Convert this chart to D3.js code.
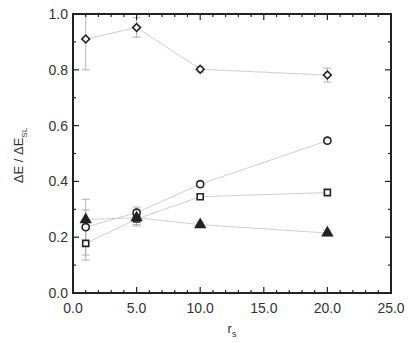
<!DOCTYPE html>
<html><head><meta charset="utf-8">
<script src="https://cdn.jsdelivr.net/npm/d3@7"></script>
<style>body{margin:0;background:#fff}svg{display:block}</style>
</head><body>
<svg id="c" width="409" height="343"></svg>
<script>
const rs = [1, 5, 10, 20];
const diamondVals = [0.91, 0.952, 0.802, 0.781];
const diamondErr = [0.11, 0.035, 0.01, 0.025];
const circleVals = [0.236, 0.288, 0.39, 0.546];
const circleErr = [0.1, 0.02, 0.01, 0.01];
const squareVals = [0.178, 0.265, 0.345, 0.36];
const squareErr = [0.06, 0.02, 0.01, 0.015];
const triangleVals = [0.263, 0.27, 0.245, 0.215];
const triangleErr = [0.035, 0.03, 0.01, 0.01];
const xTicks = [0, 5, 10, 15, 20, 25];
const yTicks = [0, 0.2, 0.4, 0.6, 0.8, 1.0];

const svg = d3.select("#c");
const L = 73, R = 391, T = 14, B = 293;
const x = d3.scaleLinear().domain([0, 25]).range([L, R]);
const y = d3.scaleLinear().domain([0, 1]).range([B, T]);
const ink = "#222";
const font = "Liberation Sans, Arial, sans-serif";

const series = [
  {vals: diamondVals, err: diamondErr, sym: d3.symbolSquare, size: 30, rot: 45, fill: "none"},
  {vals: circleVals, err: circleErr, sym: d3.symbolCircle, size: 40, rot: 0, fill: "none"},
  {vals: squareVals, err: squareErr, sym: d3.symbolSquare, size: 36, rot: 0, fill: "none"},
  {vals: triangleVals, err: triangleErr, sym: d3.symbolTriangle, size: 40, rot: 0, fill: ink}
];

// connecting lines
series.forEach(s => {
  svg.append("path")
    .datum(rs.map((r, i) => [r, s.vals[i]]))
    .attr("d", d3.line().x(d => x(d[0])).y(d => y(d[1])))
    .attr("fill", "none").attr("stroke", "#d0d0d0").attr("stroke-width", 1);
});

// error bars
series.forEach(s => {
  rs.forEach((r, i) => {
    const g = svg.append("g").attr("stroke", "#b0b0b0").attr("stroke-width", 1);
    const top = Math.max(y(s.vals[i] + s.err[i]), T), bot = y(s.vals[i] - s.err[i]);
    const cx = x(r);
    g.append("line").attr("x1", cx).attr("x2", cx).attr("y1", top).attr("y2", bot);
    g.append("line").attr("x1", cx - 4).attr("x2", cx + 4).attr("y1", top).attr("y2", top);
    g.append("line").attr("x1", cx - 4).attr("x2", cx + 4).attr("y1", bot).attr("y2", bot);
  });
});

// markers
series.forEach(s => {
  svg.append("g").selectAll("path").data(rs.map((r, i) => [r, s.vals[i]])).join("path")
    .attr("transform", d => `translate(${x(d[0])},${y(d[1])}) rotate(${s.rot})`)
    .attr("d", d3.symbol().type(s.sym).size(s.size))
    .attr("fill", s.fill === "none" ? "#fff" : s.fill)
    .attr("stroke", ink).attr("stroke-width", 1.6);
});

// frame
svg.append("rect").attr("x", L).attr("y", T).attr("width", R - L).attr("height", B - T)
  .attr("fill", "none").attr("stroke", ink).attr("stroke-width", 2);

// ticks (inward)
const tk = svg.append("g").attr("stroke", ink).attr("stroke-width", 1.2);
d3.range(0, 26, 1).forEach(v => {
  const len = v % 5 === 0 ? 6 : 3;
  tk.append("line").attr("x1", x(v)).attr("x2", x(v)).attr("y1", B).attr("y2", B - len);
  tk.append("line").attr("x1", x(v)).attr("x2", x(v)).attr("y1", T).attr("y2", T + len);
});
d3.range(0, 11, 1).forEach(k => {
  const v = k / 10;
  const len = k % 2 === 0 ? 6 : 3;
  tk.append("line").attr("y1", y(v)).attr("y2", y(v)).attr("x1", L).attr("x2", L + len);
  tk.append("line").attr("y1", y(v)).attr("y2", y(v)).attr("x1", R).attr("x2", R - len);
});

// tick labels
svg.append("g").selectAll("text").data(xTicks).join("text")
  .attr("x", d => x(d)).attr("y", B + 20).attr("text-anchor", "middle")
  .attr("font-family", font).attr("font-size", 14).attr("fill", "#333")
  .text(d => d.toFixed(1));
svg.append("g").selectAll("text").data(yTicks).join("text")
  .attr("x", L - 5).attr("y", d => y(d) + 5).attr("text-anchor", "end")
  .attr("font-family", font).attr("font-size", 14).attr("fill", "#333")
  .text(d => d.toFixed(1));

// axis titles
const xl = svg.append("text").attr("x", x(12.5)).attr("y", 333).attr("text-anchor", "middle")
  .attr("font-family", font).attr("font-size", 13).attr("fill", "#333");
xl.append("tspan").text("r");
xl.append("tspan").attr("dy", 4).attr("font-size", 9).text("s");

const yl = svg.append("text").attr("transform", `translate(23,${y(0.5) + 2}) rotate(-90)`)
  .attr("text-anchor", "middle").attr("font-family", font).attr("font-size", 13).attr("fill", "#333");
yl.append("tspan").text("ΔE / ΔE");
yl.append("tspan").attr("dy", 4).attr("font-size", 8).text("SL");
</script>
</body></html>
